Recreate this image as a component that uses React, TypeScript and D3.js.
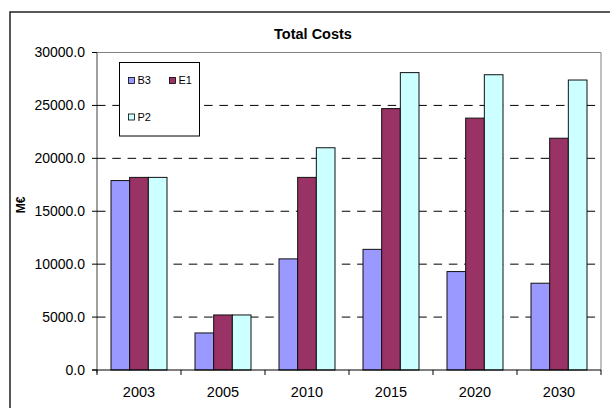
import { scaleBand, scaleLinear } from "d3";

const years = ["2003", "2005", "2010", "2015", "2020", "2030"];
const seriesNames = ["B3", "E1", "P2"];
const b3 = [17900, 3500, 10500, 11400, 9300, 8200];
const e1 = [18200, 5200, 18200, 24700, 23800, 21900];
const p2 = [18200, 5200, 21000, 28100, 27900, 27400];
const seriesValues = [b3, e1, p2];
const seriesColors = ["#9999FF", "#993366", "#CCFFFF"];
const yTicks = [0, 5000, 10000, 15000, 20000, 25000, 30000];

const totalWidth = 610;
const totalHeight = 408;
const plotLeft = 97;
const plotRight = 601;
const plotTop = 52.5;
const plotBottom = 370;
const font = "Arial, 'Liberation Sans', sans-serif";

export default function App() {
  const x0 = scaleBand<string>().domain(years).range([plotLeft, plotRight]);
  const x1 = scaleBand<string>()
    .domain(seriesNames)
    .range([0, x0.bandwidth()])
    .paddingInner(0)
    .paddingOuter(0.75);
  const y = scaleLinear().domain([0, 30000]).range([plotBottom, plotTop]);

  return (
    <svg
      width={totalWidth}
      height={totalHeight}
      style={{ position: "absolute", left: 0, top: 0 }}
    >
      <rect x={0} y={0} width={totalWidth} height={totalHeight} fill="white" />
      {/* outer chart frame (runs past the picture edges) */}
      <rect
        x={10}
        y={12}
        width={totalWidth + 20}
        height={totalHeight + 20}
        fill="none"
        stroke="#222"
        strokeWidth={1.5}
      />
      <text
        x={313}
        y={38.5}
        textAnchor="middle"
        fontFamily={font}
        fontWeight="bold"
        fontSize={14.5}
      >
        Total Costs
      </text>

      {/* plot area border */}
      <line x1={plotLeft} x2={plotRight} y1={plotTop} y2={plotTop} stroke="#808080" />
      <line x1={plotRight} x2={plotRight} y1={plotTop} y2={plotBottom} stroke="#808080" />
      <line x1={plotLeft} x2={plotLeft} y1={plotTop} y2={plotBottom + 3} stroke="#808080" strokeWidth={1.5} />

      {yTicks.slice(1, -1).map((t) => (
        <line
          key={t}
          x1={plotLeft}
          x2={plotRight}
          y1={y(t)}
          y2={y(t)}
          stroke="black"
          strokeDasharray="8.5,6.8"
        />
      ))}

      {yTicks.map((t) => (
        <g key={t}>
          <line x1={plotLeft - 5} x2={plotLeft} y1={y(t)} y2={y(t)} stroke="black" />
          <text
            x={85}
            y={y(t)}
            dy="0.35em"
            textAnchor="end"
            fontFamily={font}
            fontSize={14}
          >
            {t.toFixed(1)}
          </text>
        </g>
      ))}

      {years.map((yr, i) => (
        <g key={yr} transform={`translate(${x0(yr)},0)`}>
          {seriesNames.map((s, j) => (
            <rect
              key={s}
              x={x1(s)}
              y={y(seriesValues[j][i])}
              width={x1.bandwidth()}
              height={plotBottom - y(seriesValues[j][i])}
              fill={seriesColors[j]}
              stroke="#111"
              strokeWidth={1}
            />
          ))}
          <text
            x={x0.bandwidth() / 2}
            y={397}
            textAnchor="middle"
            fontFamily={font}
            fontSize={14.5}
          >
            {yr}
          </text>
        </g>
      ))}

      {/* x axis */}
      <line x1={plotLeft - 5} x2={plotRight} y1={plotBottom} y2={plotBottom} stroke="black" strokeWidth={1.2} />
      {[...years.map((yr) => x0(yr) as number), plotRight].map((xv) => (
        <line key={xv} x1={xv} x2={xv} y1={plotBottom} y2={plotBottom + 5} stroke="black" />
      ))}

      <text
        transform="translate(25,205) rotate(-90)"
        textAnchor="middle"
        fontFamily={font}
        fontWeight="bold"
        fontSize={12}
      >
        M€
      </text>

      {/* legend */}
      <rect x={119.5} y={62.5} width={80} height={73.5} fill="white" stroke="black" />
      {seriesNames.map((s, j) => {
        const lx = j === 1 ? 169.5 : 128.5;
        const ly = j === 2 ? 114 : 77.5;
        return (
          <g key={s}>
            <rect x={lx} y={ly} width={6} height={6} fill={seriesColors[j]} stroke="black" strokeWidth={0.8} />
            <text x={lx + 9} y={ly + 6.5} fontFamily={font} fontSize={11}>
              {s}
            </text>
          </g>
        );
      })}
    </svg>
  );
}
